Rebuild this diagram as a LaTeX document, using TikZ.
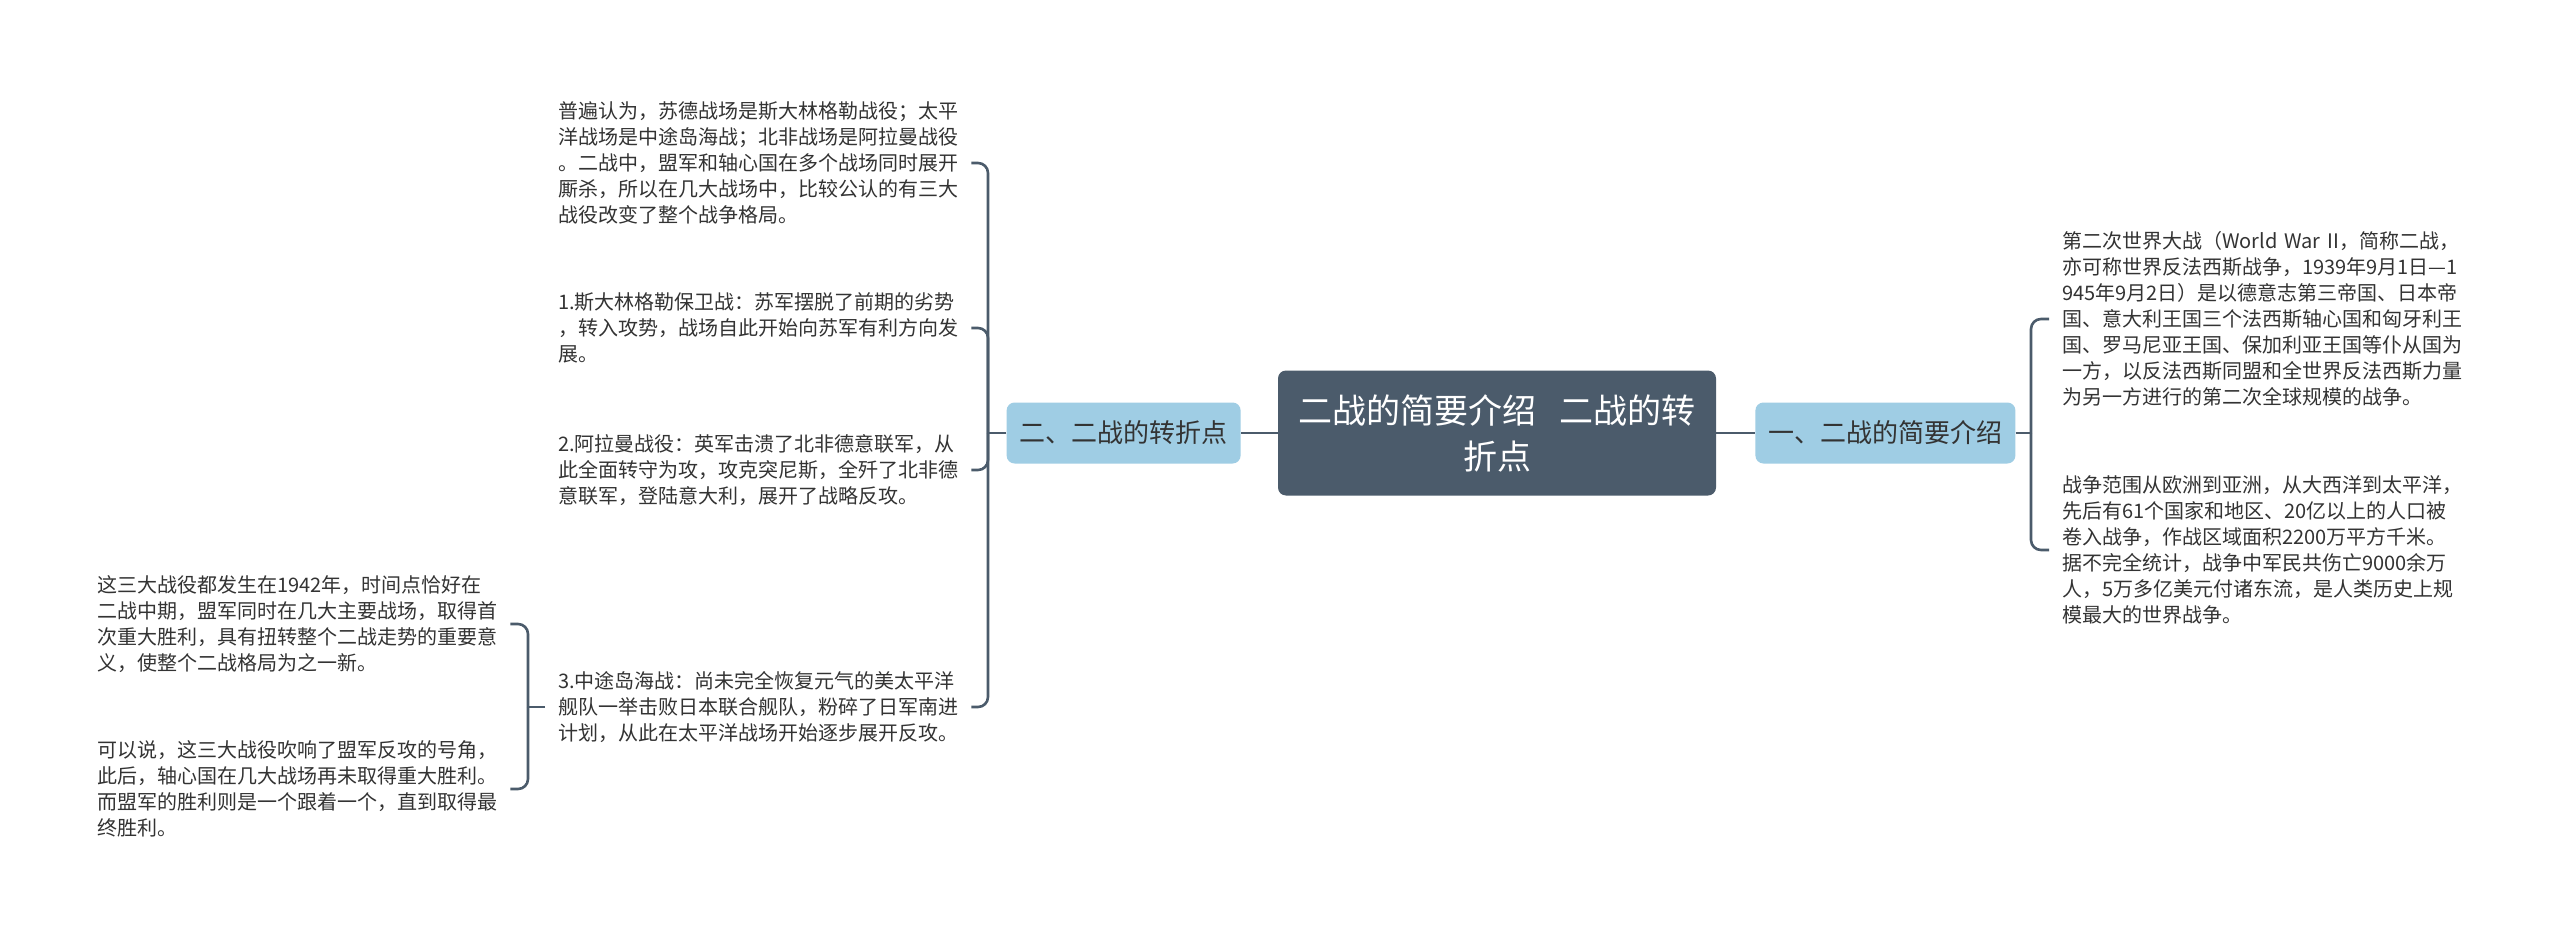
\documentclass[tikz,border=0pt]{standalone}
\usepackage{fontspec}
\setmainfont{Noto Sans CJK SC}
\usetikzlibrary{positioning}
\definecolor{slate}{HTML}{4B5B6B}
\definecolor{skyblue}{HTML}{9FCDE4}
\definecolor{ink}{HTML}{333333}

\begin{document}
\begin{tikzpicture}[
  x=1pt, y=-1pt,
  font=\fontsize{20}{26}\selectfont, text=ink,
  root/.style={fill=slate, rounded corners=8pt, text=white, align=center,
    minimum width=438pt, minimum height=125pt, font=\fontsize{34}{46}\selectfont},
  branch/.style={fill=skyblue, rounded corners=8pt, inner xsep=13pt,
    minimum height=61pt, font=\fontsize{26}{30}\selectfont},
  leaf/.style={anchor=west, text width=400pt, align=left, inner xsep=13pt},
  link/.style={draw=slate, line width=2.6pt, rounded corners=10pt}
]
\fill[white] (0,0) rectangle (2560,939);
\useasboundingbox (0,0) rectangle (2560,939);

\node[root] (center) at (1497,433) {二战的简要介绍\hspace{0.7em}二战的转\\折点};
\node[branch, right=39pt of center] (intro) {一、二战的简要介绍};
\node[branch, left=37pt of center] (turn) {二、二战的转折点};

% right side
\node[leaf] (war) at (2049,319) {第二次世界大战（World War II，简称二战，\\
亦可称世界反法西斯战争，1939年9月1日—1\\
945年9月2日）是以德意志第三帝国、日本帝\\
国、意大利王国三个法西斯轴心国和匈牙利王\\
国、罗马尼亚王国、保加利亚王国等仆从国为\\
一方，以反法西斯同盟和全世界反法西斯力量\\
为另一方进行的第二次全球规模的战争。};
\node[leaf] (scope) at (2049,550) {战争范围从欧洲到亚洲，从大西洋到太平洋，\\
先后有61个国家和地区、20亿以上的人口被\\
卷入战争，作战区域面积2200万平方千米。\\
据不完全统计，战争中军民共伤亡9000余万\\
人，5万多亿美元付诸东流，是人类历史上规\\
模最大的世界战争。};

% left side
\node[leaf] (view) at (545,163) {普遍认为，苏德战场是斯大林格勒战役；太平\\
洋战场是中途岛海战；北非战场是阿拉曼战役\\
。二战中，盟军和轴心国在多个战场同时展开\\
厮杀，所以在几大战场中，比较公认的有三大\\
战役改变了整个战争格局。};
\node[leaf] (stalin) at (545,328) {1.斯大林格勒保卫战：苏军摆脱了前期的劣势\\
，转入攻势，战场自此开始向苏军有利方向发\\
展。};
\node[leaf] (alamein) at (545,470) {2.阿拉曼战役：英军击溃了北非德意联军，从\\
此全面转守为攻，攻克突尼斯，全歼了北非德\\
意联军，登陆意大利，展开了战略反攻。};
\node[leaf] (midway) at (545,707) {3.中途岛海战：尚未完全恢复元气的美太平洋\\
舰队一举击败日本联合舰队，粉碎了日军南进\\
计划，从此在太平洋战场开始逐步展开反攻。};
\node[leaf] (meaning) at (84,624) {这三大战役都发生在1942年，时间点恰好在\\
二战中期，盟军同时在几大主要战场，取得首\\
次重大胜利，具有扭转整个二战走势的重要意\\
义，使整个二战格局为之一新。};
\node[leaf] (horn) at (84,789) {可以说，这三大战役吹响了盟军反攻的号角，\\
此后，轴心国在几大战场再未取得重大胜利。\\
而盟军的胜利则是一个跟着一个，直到取得最\\
终胜利。};

\coordinate (rfork) at (2031,433);
\coordinate (lfork) at (988,433);
\coordinate (mfork) at (528,707);

\draw[link] (center) -- (intro);
\draw[link] (center) -- (turn);
\draw[link] (intro) -- (rfork);
\draw[link] (turn) -- (lfork);
\draw[link] (midway) -- (mfork);
\foreach \n in {war,scope}
  \draw[link] (rfork) |- (\n.west);
\foreach \n in {view,stalin,alamein,midway}
  \draw[link] (lfork) |- (\n.east);
\foreach \n in {meaning,horn}
  \draw[link] (mfork) |- (\n.east);
\end{tikzpicture}
\end{document}
